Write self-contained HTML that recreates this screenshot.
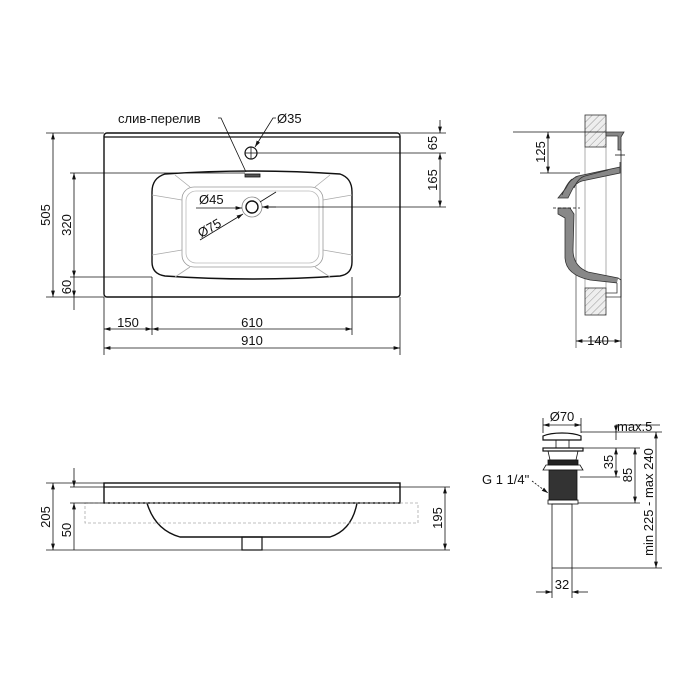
<!DOCTYPE html>
<html><head><meta charset="utf-8"><style>html,body{margin:0;padding:0;background:#fff}svg{display:block}text{font-family:"Liberation Sans",sans-serif;font-size:13px;fill:#111}</style></head><body>
<svg width="700" height="700" viewBox="0 0 700 700" xmlns="http://www.w3.org/2000/svg">
<defs>
<marker id="a" viewBox="0 0 10 6" refX="10" refY="3" markerWidth="8" markerHeight="5" orient="auto-start-reverse"><path d="M0,0L10,3L0,6z" fill="#111"/></marker>
<pattern id="h" width="5" height="5" patternUnits="userSpaceOnUse" patternTransform="rotate(45)"><rect width="5" height="5" fill="#eee"/><line x1="0" y1="0" x2="0" y2="5" stroke="#999" stroke-width="1"/></pattern>
</defs>
<g fill="none" stroke="#111" stroke-width="0.8">
<!-- TOP VIEW -->
<rect x="104" y="133" width="296" height="164" rx="3" stroke-width="1.4"/>
<line x1="104" y1="137" x2="400" y2="137" stroke-width="1.2"/>
<path d="M165,174 Q252,168 340,174 Q352,178 352,192 L352,262 Q352,274 340,276 Q252,282 165,276 Q152,274 152,262 L152,192 Q152,178 165,174Z" stroke-width="1.4"/>
<rect x="182" y="187" width="141" height="80" rx="12" stroke="#999"/>
<rect x="186" y="191" width="133" height="72" rx="10" stroke="#bbb"/>
<path d="M152,195 L182,200 M352,195 L323,200 M152,255 L182,250 M352,255 L323,250 M175,175 L190,187 M330,175 L315,187 M175,277 L190,267 M330,277 L315,267" stroke="#aaa"/>
<circle cx="252" cy="207" r="10" stroke="#888"/>
<circle cx="252" cy="207" r="6" stroke-width="1.4"/>
<circle cx="251" cy="153" r="6" stroke-width="1.2"/>
<line x1="245" y1="153" x2="257" y2="153"/><line x1="251" y1="147" x2="251" y2="159"/>
<rect x="245" y="174" width="15" height="3" fill="#555"/>
<path d="M218,118 L221,118 L246,172"/>
<path d="M276,118 L273,118 L255,147" marker-end="url(#a)"/>
<path d="M196,208 L242,208" marker-end="url(#a)"/><path d="M276,207 L262,207" marker-end="url(#a)"/>
<path d="M200,240 L243,214" marker-end="url(#a)"/><path d="M276,192 L260,202" />
<line x1="46" y1="133" x2="104" y2="133"/><line x1="46" y1="297" x2="104" y2="297"/>
<path d="M53,133 L53,297" marker-start="url(#a)" marker-end="url(#a)"/>
<line x1="70" y1="173" x2="245" y2="173"/><line x1="70" y1="277" x2="152" y2="277"/>
<path d="M74,173 L74,277" marker-start="url(#a)" marker-end="url(#a)"/>
<path d="M74,277 L74,297" marker-end="url(#a)"/><line x1="74" y1="297" x2="74" y2="310"/>
<line x1="257" y1="153" x2="446" y2="153"/><line x1="400" y1="133" x2="446" y2="133"/><line x1="262" y1="207" x2="446" y2="207"/>
<path d="M440,120 L440,133" marker-end="url(#a)"/><path d="M440,153 L440,207" marker-start="url(#a)" marker-end="url(#a)"/>
<line x1="104" y1="297" x2="104" y2="355"/><line x1="400" y1="297" x2="400" y2="355"/>
<line x1="152" y1="277" x2="152" y2="335"/><line x1="352" y1="277" x2="352" y2="335"/>
<path d="M104,329 L152,329" marker-start="url(#a)" marker-end="url(#a)"/>
<path d="M152,329 L352,329" marker-start="url(#a)" marker-end="url(#a)"/>
<path d="M104,348 L400,348" marker-start="url(#a)" marker-end="url(#a)"/>
<!-- SIDE VIEW -->
<line x1="585" y1="147" x2="585" y2="288" stroke="#999"/>
<line x1="606" y1="147" x2="606" y2="288" stroke="#999"/>
<line x1="576" y1="176" x2="576" y2="348" stroke="#555"/>
<rect x="585" y="115" width="21" height="32" fill="url(#h)" stroke="#333"/>
<rect x="585" y="288" width="21" height="27" fill="url(#h)" stroke="#333"/>
<path d="M606,132 L624,132 L621,137 L621,150 L618,150 L618,136 L606,136Z" fill="#888" stroke="#333"/>
<line x1="615" y1="155" x2="625" y2="155"/>
<path d="M620,162 L620,167 L578,176 Q570,179 566,188 L558,198 L568,198 L572,190 Q575,183 582,181 L620,173Z" fill="#888" stroke="#333"/>
<path d="M572,179 Q567,183 562,195 M608,170 L585,176 Q578,178 574,188" stroke="#333"/>
<path d="M558,208 L570,208 L574,214 L573,250 Q573,266 588,272 L618,278 L618,283 L590,280 Q566,275 565,258 L565,218 L558,214Z" fill="#888" stroke="#333"/>
<path d="M618,278 L621,280 L621,297 L606,297 L606,293 L617,293 L617,283" fill="#fff" stroke="#333"/>
<line x1="621" y1="150" x2="621" y2="300"/>
<line x1="553" y1="208" x2="580" y2="208" stroke-dasharray="3,2"/>
<line x1="513" y1="132" x2="606" y2="132"/><line x1="540" y1="173" x2="580" y2="173"/>
<path d="M548,132 L548,173" marker-start="url(#a)" marker-end="url(#a)"/>
<line x1="621" y1="300" x2="621" y2="348"/>
<path d="M576,341 L621,341" marker-start="url(#a)" marker-end="url(#a)"/>
<!-- FRONT VIEW -->
<rect x="104" y="483" width="296" height="20" stroke-width="1.4"/>
<line x1="104" y1="487" x2="400" y2="487" stroke-width="1.2"/>
<path d="M147,503 Q155,530 180,537 L330,537 Q352,530 357,503" stroke-width="1.4"/>
<rect x="242" y="537" width="20" height="13" stroke-width="1.2"/>
<rect x="85" y="503" width="333" height="20" stroke="#aaa" stroke-dasharray="3,2"/>
<line x1="46" y1="483" x2="104" y2="483"/><line x1="46" y1="550" x2="242" y2="550"/>
<path d="M53,483 L53,550" marker-start="url(#a)" marker-end="url(#a)"/>
<line x1="70" y1="487" x2="104" y2="487"/><line x1="70" y1="503" x2="104" y2="503"/>
<path d="M74,468 L74,487" marker-end="url(#a)"/><path d="M74,503 L74,550" marker-start="url(#a)"/>
<line x1="262" y1="550" x2="450" y2="550"/><line x1="400" y1="487" x2="450" y2="487"/>
<path d="M445,487 L445,550" marker-start="url(#a)" marker-end="url(#a)"/>
<!-- DRAIN -->
<path d="M543,440 L543,436 Q550,433 562,433 Q574,433 581,436 L581,440Z" stroke-width="1.2"/>
<rect x="556" y="440" width="13" height="8"/>
<rect x="543" y="448" width="40" height="3" stroke-width="1.2"/>
<path d="M548,451 L578,451 L576,460 L550,460Z"/>
<rect x="548" y="460" width="30" height="5" fill="#222"/>
<path d="M546,465 L580,465 L583,470 L543,470Z"/>
<rect x="549" y="470" width="28" height="30" fill="#333"/>
<rect x="548" y="500" width="30" height="4"/>
<rect x="552" y="504" width="20" height="64"/>
<line x1="543" y1="418" x2="543" y2="433"/><line x1="581" y1="418" x2="581" y2="433"/>
<path d="M543,425 L581,425" marker-start="url(#a)" marker-end="url(#a)"/>
<path d="M616,440 L616,425 L660,425"/>
<line x1="581" y1="432" x2="662" y2="432"/><line x1="583" y1="448" x2="640" y2="448"/>
<line x1="580" y1="477" x2="620" y2="477"/><line x1="578" y1="503" x2="640" y2="503"/>
<line x1="572" y1="568" x2="662" y2="568"/>
<path d="M616,425 L616,432" marker-end="url(#a)"/><path d="M616,448 L616,477" marker-start="url(#a)" marker-end="url(#a)"/>
<path d="M635,448 L635,503" marker-start="url(#a)" marker-end="url(#a)"/>
<path d="M656,432 L656,568" marker-start="url(#a)" marker-end="url(#a)"/>
<line x1="552" y1="568" x2="552" y2="598"/><line x1="572" y1="568" x2="572" y2="598"/>
<path d="M536,592 L552,592" marker-end="url(#a)"/><path d="M588,592 L572,592" marker-end="url(#a)"/>
<path d="M532,481 L548,493" stroke-dasharray="2,1.5" marker-end="url(#a)"/>
</g>
<text x="118" y="123">слив-перелив</text>
<text x="277" y="123">Ø35</text>
<text x="199" y="204">Ø45</text>
<text transform="translate(201,238) rotate(-30)">Ø75</text>
<text transform="translate(50,215) rotate(-90)" text-anchor="middle">505</text>
<text transform="translate(71,225) rotate(-90)" text-anchor="middle">320</text>
<text transform="translate(71,287) rotate(-90)" text-anchor="middle">60</text>
<text transform="translate(437,143) rotate(-90)" text-anchor="middle">65</text>
<text transform="translate(437,180) rotate(-90)" text-anchor="middle">165</text>
<text x="128" y="327" text-anchor="middle">150</text>
<text x="252" y="327" text-anchor="middle">610</text>
<text x="252" y="345" text-anchor="middle">910</text>
<text transform="translate(545,152) rotate(-90)" text-anchor="middle">125</text>
<text x="598" y="345" text-anchor="middle">140</text>
<text transform="translate(50,517) rotate(-90)" text-anchor="middle">205</text>
<text transform="translate(71,530) rotate(-90)" text-anchor="middle">50</text>
<text transform="translate(442,518) rotate(-90)" text-anchor="middle">195</text>
<text x="562" y="421" text-anchor="middle">Ø70</text>
<text x="617" y="431">max.5</text>
<text transform="translate(613,462) rotate(-90)" text-anchor="middle">35</text>
<text transform="translate(632,475) rotate(-90)" text-anchor="middle">85</text>
<text transform="translate(653,502) rotate(-90)" text-anchor="middle">min 225 - max 240</text>
<text x="482" y="484">G 1 1/4"</text>
<text x="562" y="589" text-anchor="middle">32</text>
</svg>
</body></html>
